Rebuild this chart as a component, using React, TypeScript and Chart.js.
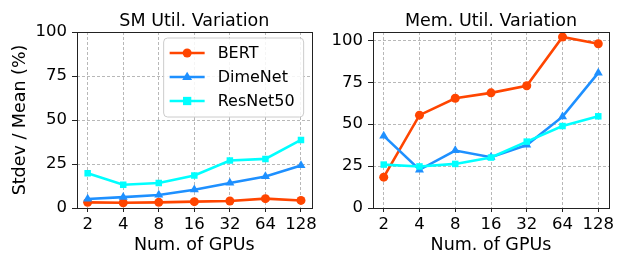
import React, { useEffect, useRef } from "react";
import { Chart, registerables } from "chart.js";
Chart.register(...registerables);

const gpuCounts = ["2", "4", "8", "16", "32", "64", "128"];
const seriesNames = ["BERT", "DimeNet", "ResNet50"];
const smBert = [3.2, 3.0, 3.2, 3.6, 4.0, 5.3, 4.3];
const smDimeNet = [5.1, 6.2, 7.4, 10.4, 14.2, 17.9, 24.2];
const smResNet = [19.8, 13.2, 14.2, 18.5, 27.0, 27.9, 38.7];
const memBert = [18.4, 55.4, 65.5, 68.7, 72.9, 102, 98];
const memDimeNet = [43, 22.8, 34.3, 30.3, 37.6, 54.5, 80.6];
const memResNet = [25.9, 24.8, 26.3, 30.1, 39.6, 48.9, 54.7];
const yTicks = [0, 25, 50, 75, 100];

const FONT = "'DejaVu Sans', sans-serif";
const COLORS = ["#FF4500", "#1E90FF", "#00FFFF"];
const MARKERS = ["circle", "triangle", "rect"];
const RADII = [4.5, 5.2, 4.6];

const framePlugin = {
  id: "frame",
  afterDraw(chart: any, _args: any, opts: any) {
    const { ctx, chartArea: a } = chart;
    ctx.save();
    ctx.strokeStyle = "#222";
    ctx.lineWidth = 1;
    ctx.strokeRect(Math.round(a.left) + 0.5, Math.round(a.top) + 0.5, Math.round(a.right - a.left), Math.round(a.bottom - a.top));
    if (opts && opts.title) {
      ctx.fillStyle = "#000";
      ctx.font = `17.5px ${FONT}`;
      ctx.textAlign = "center";
      ctx.textBaseline = "alphabetic";
      ctx.fillText(opts.title, (a.left + a.right) / 2, 25.5);
    }
    ctx.restore();
  },
};

const legendPlugin = {
  id: "boxLegend",
  afterDraw(chart: any, _args: any, opts: any) {
    if (!opts || !opts.show) return;
    const { ctx, chartArea: a } = chart;
    const w = 140, h = 79;
    const x = a.right - 8 - w, y = a.top + 6;
    ctx.save();
    ctx.beginPath();
    const r = 4;
    ctx.moveTo(x + r, y);
    ctx.arcTo(x + w, y, x + w, y + h, r);
    ctx.arcTo(x + w, y + h, x, y + h, r);
    ctx.arcTo(x, y + h, x, y, r);
    ctx.arcTo(x, y, x + w, y, r);
    ctx.closePath();
    ctx.fillStyle = "rgba(255,255,255,0.85)";
    ctx.fill();
    ctx.strokeStyle = "#cccccc";
    ctx.lineWidth = 1;
    ctx.stroke();
    chart.data.datasets.forEach((ds: any, i: number) => {
      const cy = y + 15 + i * 24;
      ctx.strokeStyle = ds.borderColor;
      ctx.lineWidth = ds.borderWidth;
      ctx.beginPath();
      ctx.moveTo(x + 6, cy);
      ctx.lineTo(x + 41, cy);
      ctx.stroke();
      ctx.fillStyle = ds.borderColor;
      ctx.beginPath();
      const mx = x + 23.5;
      if (ds.pointStyle === "circle") {
        ctx.arc(mx, cy, ds.pointRadius, 0, Math.PI * 2);
      } else if (ds.pointStyle === "triangle") {
        const rr = ds.pointRadius;
        ctx.moveTo(mx, cy - rr);
        ctx.lineTo(mx + rr * 0.95, cy + rr * 0.6);
        ctx.lineTo(mx - rr * 0.95, cy + rr * 0.6);
        ctx.closePath();
      } else {
        const rr = ds.pointRadius * 0.9;
        ctx.rect(mx - rr, cy - rr, rr * 2, rr * 2);
      }
      ctx.fill();
      ctx.fillStyle = "#000";
      ctx.font = `16px ${FONT}`;
      ctx.textBaseline = "middle";
      ctx.textAlign = "left";
      ctx.fillText(ds.label, x + 54, cy + 1);
    });
    ctx.restore();
  },
};

function makeConfig(title: string, series: number[][], yMax: number, yTitle: string | null, yWidth: number, rightPad: number, showLegend: boolean): any {
  const datasets = series.map((vals, i) => ({
    label: seriesNames[i],
    data: vals.map((v, j) => ({ x: j, y: v })),
    borderColor: COLORS[i],
    backgroundColor: COLORS[i],
    borderWidth: 2.6,
    pointStyle: MARKERS[i],
    pointRadius: RADII[i],
    pointBorderWidth: 0,
    pointHoverRadius: RADII[i],
    order: 2 - i,
    tension: 0,
  }));
  const gridBase = {
    color: "#b0b0b0",
    lineWidth: 0.9,
    tickColor: "#222",
    tickWidth: 1,
    tickBorderDash: [],
  };
  return {
    type: "line",
    data: { datasets },
    plugins: [framePlugin, legendPlugin],
    options: {
      animation: false,
      responsive: false,
      devicePixelRatio: 1,
      layout: { padding: { left: 0, right: rightPad, top: 32, bottom: 0 } },
      plugins: {
        legend: { display: false },
        tooltip: { enabled: false },
        title: { display: false },
        frame: { title },
        boxLegend: { show: showLegend },
      },
      scales: {
        x: {
          type: "linear",
          min: -0.3,
          max: 6.3,
          afterBuildTicks: (s: any) => {
            s.ticks = gpuCounts.map((_, i) => ({ value: i }));
          },
          afterFit: (s: any) => {
            s.height = 48;
          },
          ticks: {
            callback: (v: any) => gpuCounts[v],
            color: "#000",
            font: { family: FONT, size: 16.5 },
            autoSkip: false,
            maxRotation: 0,
            padding: 3,
          },
          grid: { ...gridBase, tickLength: 4 },
          border: { display: false, dash: [3, 2] },
          title: {
            display: true,
            text: "Num. of GPUs",
            color: "#000",
            font: { family: FONT, size: 17.5 },
            padding: { top: 0, bottom: 0 },
          },
        },
        y: {
          min: 0,
          max: yMax,
          afterBuildTicks: (s: any) => {
            s.ticks = yTicks.map((v) => ({ value: v }));
          },
          afterFit: (s: any) => {
            s.width = yWidth;
          },
          ticks: {
            color: "#000",
            font: { family: FONT, size: 16.5 },
            padding: 5,
          },
          grid: { ...gridBase, tickLength: 5 },
          border: { display: false, dash: [3, 2] },
          title: {
            display: !!yTitle,
            text: yTitle || "",
            color: "#000",
            font: { family: FONT, size: 17.5 },
            padding: { top: 9.5, bottom: 0 },
          },
        },
      },
    },
  };
}

function ChartCanvas(props: { left: number; width: number; config: () => any }) {
  const ref = useRef<HTMLCanvasElement>(null);
  useEffect(() => {
    if (!ref.current) return;
    const chart = new Chart(ref.current, props.config());
    return () => chart.destroy();
  }, []);
  return (
    <div style={{ position: "absolute", left: props.left, top: 0, width: props.width, height: 256 }}>
      <canvas ref={ref} width={props.width} height={256} style={{ width: props.width, height: 256 }} />
    </div>
  );
}

export default function App() {
  return (
    <div style={{ position: "absolute", left: 0, top: 0, width: 619, height: 256, background: "#fff" }}>
      <ChartCanvas
        left={0}
        width={320}
        config={() => makeConfig("SM Util. Variation", [smBert, smDimeNet, smResNet], 100, "Stdev / Mean (%)", 77, 6, true)}
      />
      <ChartCanvas
        left={320}
        width={299}
        config={() => makeConfig("Mem. Util. Variation", [memBert, memDimeNet, memResNet], 105, null, 53, 10, false)}
      />
    </div>
  );
}
